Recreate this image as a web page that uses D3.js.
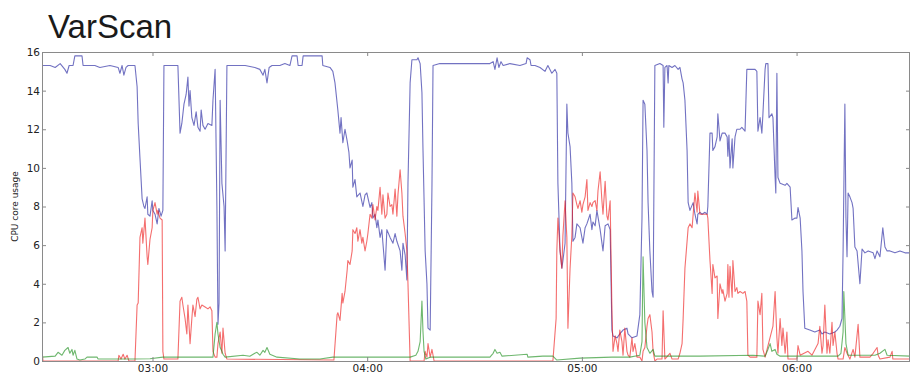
<!DOCTYPE html>
<html><head><meta charset="utf-8">
<script src="https://cdn.jsdelivr.net/npm/d3@7"></script>
<style>body{margin:0;background:#fff}svg{display:block}</style>
</head><body>
<script>
// time in minutes after midnight, value in CPU cores
const chartTitle = "VarScan";
const yLabel = "CPU core usage";
const yTicks = [0,2,4,6,8,10,12,14,16];
const xTickHours = [3,4,5,6];
const timeStart = 149.12, timeEnd = 391.7;

const blueData = [[149.1,15.3],[151.4,15.3],[152.8,15.2],[154.2,15.4],[155.5,15.1],[156.1,14.9],[156.7,15.3],[157.8,15.3],[158.3,15.8],[160.3,15.8],[160.6,15.3],[163.9,15.3],[165.3,15.2],[168.1,15.3],[170.4,15.2],[170.9,14.9],[171.5,15.3],[172.0,14.8],[172.6,15.2],[173.2,15.3],[175.1,15.3],[175.7,14.2],[176.0,12.3],[176.5,10.5],[177.1,8.4],[177.6,8.0],[177.9,7.9],[178.5,8.5],[178.7,7.6],[179.3,7.5],[179.9,8.3],[180.1,7.8],[180.7,7.6],[181.3,7.1],[181.8,7.9],[182.4,7.5],[182.9,7.8],[183.2,15.3],[184.9,15.3],[187.1,15.3],[187.7,11.8],[188.2,12.3],[188.8,13.3],[189.4,13.8],[189.9,14.7],[190.2,13.2],[190.5,14.0],[191.0,12.6],[191.6,12.2],[192.2,12.9],[192.7,12.1],[193.3,11.9],[193.6,13.0],[194.1,12.2],[194.7,12.0],[195.5,12.3],[196.6,12.2],[196.9,13.5],[197.5,15.1],[198.0,8.0],[198.3,1.9],[198.6,3.0],[198.9,13.5],[199.4,9.2],[200.0,8.0],[200.3,5.7],[200.8,15.3],[203.1,15.3],[205.9,15.3],[208.6,15.2],[210.0,15.1],[210.9,14.8],[211.4,15.1],[212.0,14.4],[212.6,15.2],[213.4,15.3],[215.6,15.3],[217.0,15.4],[218.4,15.3],[219.0,15.8],[220.4,15.8],[220.7,15.3],[221.8,15.3],[222.1,15.8],[227.4,15.8],[227.6,15.3],[229.6,15.2],[230.4,15.0],[231.0,14.4],[231.8,13.0],[232.4,11.8],[232.7,12.6],[233.2,11.3],[233.8,12.0],[234.4,11.4],[234.9,10.8],[235.2,10.0],[235.8,10.4],[236.0,9.0],[236.6,9.4],[237.1,8.5],[238.0,8.7],[238.8,8.0],[239.4,8.6],[239.9,8.7],[240.8,7.95],[241.3,8.2],[241.6,7.4],[242.2,7.6],[242.7,6.9],[243.0,7.3],[243.6,6.4],[244.1,6.8],[244.4,6.1],[245.0,4.7],[245.5,6.8],[246.4,6.4],[247.2,6.1],[247.8,6.6],[248.3,6.2],[249.2,5.7],[249.7,4.7],[250.0,6.1],[250.6,5.5],[251.1,4.2],[251.4,9.2],[252.0,14.4],[252.5,15.6],[253.9,15.6],[254.2,15.7],[254.8,15.4],[255.3,13.9],[255.6,10.9],[256.2,5.7],[256.7,4.0],[257.0,1.7],[257.6,1.6],[258.1,9.0],[258.4,15.3],[260.3,15.4],[268.7,15.4],[271.5,15.4],[274.3,15.4],[275.2,15.5],[275.7,15.1],[276.3,15.7],[276.8,15.2],[277.4,15.5],[278.0,15.3],[279.9,15.4],[282.7,15.3],[284.4,15.4],[284.7,15.7],[285.5,15.6],[285.8,15.3],[286.9,15.3],[288.3,15.2],[289.7,15.0],[290.5,15.3],[291.6,14.9],[292.5,15.1],[293.0,14.9],[293.3,9.2],[293.9,5.7],[294.4,4.8],[294.7,5.2],[295.3,6.1],[295.8,13.3],[296.1,11.8],[296.7,11.1],[297.2,9.2],[297.5,6.2],[298.1,6.4],[298.6,7.1],[299.5,6.9],[300.3,6.1],[300.9,6.9],[301.4,7.1],[302.3,7.6],[302.8,6.8],[303.1,7.2],[303.7,7.0],[304.2,7.8],[305.1,6.8],[305.9,5.7],[306.5,7.0],[307.3,7.1],[307.9,6.8],[308.4,1.6],[308.7,1.3],[309.8,1.2],[310.6,1.4],[311.5,1.6],[312.6,1.7],[312.9,1.4],[314.0,1.2],[315.4,1.3],[316.2,2.4],[316.8,7.4],[317.1,13.5],[317.6,13.3],[318.2,10.9],[318.5,8.2],[319.0,5.7],[319.6,3.6],[319.9,3.3],[320.4,15.3],[321.8,15.4],[322.7,15.3],[322.9,12.1],[323.2,15.2],[323.8,15.3],[324.1,14.4],[324.3,15.3],[325.2,15.2],[326.0,15.3],[326.9,15.1],[327.4,15.2],[328.0,14.6],[328.3,14.4],[328.8,13.5],[329.4,10.9],[329.7,8.2],[330.2,7.8],[331.1,8.2],[331.6,7.6],[332.2,7.1],[332.4,7.6],[333.0,7.7],[333.6,7.6],[334.4,7.7],[335.0,7.6],[335.2,8.0],[335.8,11.8],[336.4,11.8],[336.6,10.9],[337.2,11.1],[337.8,11.6],[338.0,12.8],[338.6,11.4],[339.2,11.8],[340.0,11.8],[340.6,11.6],[340.8,10.6],[341.1,11.7],[341.4,10.0],[342.0,11.5],[342.2,10.0],[342.8,11.6],[343.3,12.0],[344.2,12.0],[344.7,12.1],[345.6,11.9],[346.1,15.1],[348.4,15.1],[348.9,15.0],[349.2,11.9],[349.8,12.6],[350.3,11.8],[350.6,12.8],[351.2,15.1],[351.4,15.4],[352.0,15.4],[352.3,12.6],[353.1,12.8],[353.4,12.6],[354.0,9.5],[354.2,8.7],[354.5,14.9],[354.8,9.5],[355.4,9.2],[356.8,9.1],[357.3,9.2],[358.2,9.0],[358.7,7.3],[359.6,7.4],[360.1,7.4],[360.4,7.95],[361.0,7.4],[361.5,5.7],[361.8,3.6],[362.3,1.7],[363.7,1.6],[365.1,1.5],[366.5,1.6],[367.1,1.4],[367.9,1.5],[369.3,1.4],[370.7,1.5],[371.3,1.6],[372.1,1.8],[372.7,2.2],[373.0,5.7],[373.5,13.3],[373.8,7.4],[374.1,5.4],[374.4,8.7],[374.9,8.5],[375.5,8.2],[375.8,7.9],[376.3,5.9],[376.9,5.7],[377.7,4.0],[378.3,5.8],[379.1,5.6],[380.0,5.7],[381.4,5.6],[381.9,5.3],[382.5,5.7],[383.3,5.4],[384.1,6.9],[384.7,5.9],[385.3,5.7],[386.1,5.7],[387.5,5.6],[388.9,5.7],[390.3,5.6],[391.7,5.6]];

const redData = [[149.1,0.6],[149.4,0.0],[170.4,0.0],[170.6,0.3],[171.2,0.1],[171.8,0.35],[172.3,0.1],[172.9,0.3],[173.4,0.0],[175.1,0.0],[175.7,2.9],[176.0,3.0],[176.5,6.4],[177.1,6.9],[177.3,6.1],[177.9,7.4],[178.5,5.4],[178.7,5.0],[179.3,6.3],[179.9,6.9],[180.1,7.8],[180.7,8.2],[181.3,7.6],[181.5,7.8],[182.1,7.4],[182.7,7.3],[182.9,0.5],[183.2,0.1],[187.1,0.1],[187.7,3.1],[188.2,3.3],[188.5,2.9],[189.1,2.2],[189.6,1.4],[189.9,2.9],[190.5,0.9],[191.0,2.2],[191.3,2.9],[191.9,2.3],[192.4,3.2],[192.7,3.3],[193.3,2.7],[193.8,2.9],[194.7,2.8],[195.5,2.7],[196.1,2.8],[196.6,2.6],[196.9,0.5],[197.5,0.2],[198.0,0.2],[198.3,0.9],[198.9,1.5],[199.4,0.4],[199.7,1.7],[200.3,0.4],[200.8,0.1],[230.7,0.05],[231.6,2.4],[231.8,2.5],[232.4,2.1],[233.0,3.5],[233.2,3.0],[233.8,3.6],[234.4,4.7],[234.6,5.2],[235.2,5.0],[235.8,5.7],[236.0,6.8],[236.6,6.6],[237.1,6.9],[237.4,6.2],[238.0,6.8],[238.5,6.1],[238.8,6.4],[239.4,5.7],[239.9,6.2],[240.2,6.6],[240.8,7.6],[241.3,7.4],[241.6,8.1],[242.2,7.3],[242.7,8.0],[243.0,7.8],[243.6,9.0],[244.1,7.6],[244.4,8.6],[245.0,7.4],[245.5,7.6],[245.8,8.7],[246.4,8.0],[246.9,8.1],[247.2,7.6],[247.8,8.9],[248.3,7.5],[248.6,8.6],[249.2,9.9],[249.7,8.7],[250.0,7.5],[250.6,6.6],[251.1,5.7],[251.4,4.0],[252.0,0.0],[255.9,0.0],[256.2,0.5],[256.7,0.2],[257.0,0.9],[257.6,0.2],[258.1,0.6],[258.7,0.0],[291.9,0.0],[292.8,2.2],[293.0,5.7],[293.3,7.4],[293.9,5.7],[294.4,4.8],[294.7,6.5],[295.3,8.3],[295.8,6.4],[296.1,1.7],[296.7,4.8],[297.2,6.5],[297.5,8.7],[298.1,8.5],[298.6,8.1],[298.9,7.9],[299.5,8.3],[300.0,7.7],[300.3,8.1],[300.9,8.5],[301.4,9.4],[301.7,7.8],[302.3,8.2],[302.8,8.0],[303.1,8.2],[303.7,8.3],[304.2,7.8],[304.5,8.8],[305.1,9.8],[305.6,8.3],[305.9,7.6],[306.5,9.3],[307.0,7.5],[307.3,7.3],[307.9,8.3],[308.4,2.6],[308.7,0.5],[309.3,1.3],[309.8,0.9],[310.1,0.5],[310.6,1.6],[311.2,1.0],[311.5,0.3],[312.0,1.7],[312.6,0.5],[312.9,0.3],[313.4,0.2],[314.0,1.2],[314.3,0.5],[314.8,0.9],[315.4,0.2],[316.2,0.2],[316.8,0.0],[317.1,0.5],[317.6,0.7],[318.2,1.8],[318.5,2.2],[319.0,2.4],[319.6,1.5],[319.9,0.5],[320.4,0.0],[321.0,0.1],[322.4,0.1],[322.7,2.6],[323.2,0.1],[324.6,0.4],[325.2,0.1],[326.9,0.1],[327.4,0.4],[328.0,0.9],[328.3,2.2],[328.8,4.8],[329.4,6.2],[329.7,6.9],[330.2,7.1],[330.8,6.9],[331.1,7.6],[331.6,8.7],[332.2,7.7],[332.4,8.8],[333.0,7.6],[333.8,7.6],[335.0,7.6],[335.2,7.4],[335.8,5.2],[336.4,3.5],[336.6,5.0],[337.2,4.3],[337.8,4.4],[338.0,2.2],[338.6,4.0],[339.2,3.5],[339.4,3.7],[340.0,3.1],[340.6,3.5],[340.8,5.0],[341.1,3.3],[341.4,4.9],[342.0,3.3],[342.2,5.2],[342.8,3.6],[343.3,3.8],[343.6,3.5],[344.2,3.6],[345.0,3.5],[345.6,3.6],[346.1,3.1],[346.4,0.3],[347.0,0.2],[348.9,0.2],[349.2,3.1],[349.8,2.4],[350.3,3.5],[350.6,0.6],[351.2,0.2],[353.4,1.8],[354.0,3.6],[354.5,1.2],[354.8,0.4],[355.4,2.2],[355.9,0.8],[356.2,1.7],[356.8,0.4],[357.3,1.5],[357.6,0.1],[360.1,0.1],[360.4,0.8],[361.0,0.3],[363.2,0.5],[364.3,0.3],[366.0,0.9],[366.5,1.8],[367.1,0.4],[367.4,0.8],[367.9,2.9],[368.5,0.4],[368.8,1.1],[369.3,0.4],[369.9,2.0],[370.2,0.8],[370.7,1.5],[371.3,0.4],[371.6,0.1],[373.0,0.1],[373.5,0.7],[374.1,0.4],[374.9,0.1],[375.8,0.6],[376.3,0.2],[377.2,1.9],[377.7,0.2],[380.5,0.2],[381.4,0.4],[382.5,0.7],[382.8,0.3],[383.3,0.1],[386.1,0.2],[386.7,0.5],[386.9,0.1],[391.7,0.1]];

const greenData = [[149.1,0.2],[152.8,0.25],[153.6,0.45],[154.7,0.3],[155.5,0.55],[156.4,0.7],[156.9,0.4],[157.5,0.6],[157.8,0.3],[158.3,0.55],[158.9,0.1],[159.7,0.05],[161.1,0.1],[161.7,0.2],[162.5,0.2],[164.5,0.2],[164.8,0.1],[174.5,0.1],[179.3,0.12],[182.9,0.2],[196.9,0.2],[197.5,1.4],[198.0,2.0],[198.3,1.4],[198.9,0.7],[199.4,0.5],[199.7,0.35],[200.3,0.2],[205.3,0.3],[207.2,0.25],[208.6,0.4],[209.2,0.45],[210.0,0.3],[210.9,0.55],[211.4,0.45],[212.0,0.7],[212.8,0.35],[214.8,0.2],[221.2,0.1],[226.8,0.1],[230.4,0.2],[252.0,0.2],[253.6,0.3],[254.2,0.5],[254.8,1.0],[255.3,3.1],[255.6,1.5],[255.9,0.5],[256.4,0.1],[257.6,0.2],[274.3,0.2],[275.2,0.4],[275.7,0.6],[276.3,0.4],[277.1,0.45],[277.7,0.25],[284.7,0.35],[284.9,0.2],[289.1,0.25],[291.9,0.25],[293.0,0.05],[299.5,0.15],[308.4,0.2],[313.4,0.2],[316.2,0.3],[316.8,1.0],[317.1,5.4],[317.6,2.0],[318.2,0.7],[319.0,0.4],[319.9,0.6],[320.4,0.25],[333.0,0.25],[347.8,0.3],[351.2,0.25],[352.0,0.6],[352.6,0.9],[353.1,0.5],[354.0,0.6],[354.5,0.35],[355.4,0.25],[371.6,0.25],[372.4,0.4],[373.0,1.5],[373.2,3.6],[373.8,0.9],[374.4,0.3],[381.9,0.3],[383.3,0.4],[384.7,0.6],[385.3,0.3],[391.7,0.25]];

const W = 911, H = 376;
const margin = {left: 42, right: 1, top: 52, bottom: 15};
const base = new Date(2013, 0, 1, 0, 0, 0).getTime();
const toDate = m => new Date(base + m * 60000);

const svg = d3.select("body").append("svg").attr("width", W).attr("height", H);

const x = d3.scaleTime().domain([toDate(timeStart), toDate(timeEnd)]).range([margin.left, W - margin.right]);
const y = d3.scaleLinear().domain([0, 16]).range([H - margin.bottom, margin.top]);

svg.append("text").attr("x", 48).attr("y", 38)
  .attr("font-family", "'Liberation Sans', Arial, sans-serif").attr("font-size", 33)
  .attr("fill", "#1a1a1a").text(chartTitle);

svg.append("defs").append("clipPath").attr("id", "clip").append("rect")
  .attr("x", margin.left).attr("y", margin.top)
  .attr("width", W - margin.right - margin.left).attr("height", H - margin.bottom - margin.top);

const line = d3.line().x(d => x(toDate(d[0]))).y(d => y(d[1]));
const g = svg.append("g").attr("clip-path", "url(#clip)");
const series = [
  {data: blueData, color: "#1c1c9c"},
  {data: redData, color: "#ee1515"},
  {data: greenData, color: "#158a15"}
];
series.forEach(s => {
  g.append("path").datum(s.data).attr("d", line).attr("fill", "none")
    .attr("stroke", s.color).attr("stroke-opacity", 0.62).attr("stroke-width", 1.1)
    .attr("stroke-linejoin", "round");
});

const tickFont = "'DejaVu Sans', sans-serif";
const yAxis = d3.axisLeft(y).tickValues(yTicks).tickSize(-4).tickPadding(3);
const ya = svg.append("g").attr("transform", `translate(${margin.left},0)`).call(yAxis);
ya.select(".domain").remove();
ya.selectAll("line").attr("stroke", "#888");
ya.selectAll("text").attr("font-family", tickFont).attr("font-size", 10.5).attr("fill", "#222").attr("x", -2);
const yr = svg.append("g").attr("transform", `translate(${W - margin.right},0)`)
  .call(d3.axisRight(y).tickValues(yTicks).tickSize(-4).tickFormat(""));
yr.select(".domain").remove();
yr.selectAll("line").attr("stroke", "#888");

const xTickDates = xTickHours.map(h => toDate(h * 60));
const xAxis = d3.axisBottom(x).tickValues(xTickDates).tickFormat(d3.timeFormat("%H:%M")).tickSize(-4).tickPadding(5);
const xa = svg.append("g").attr("transform", `translate(0,${H - margin.bottom})`).call(xAxis);
xa.select(".domain").remove();
xa.selectAll("line").attr("stroke", "#888");
xa.selectAll("text").attr("font-family", tickFont).attr("font-size", 10.5).attr("fill", "#222").attr("y", 4);
const xt = svg.append("g").attr("transform", `translate(0,${margin.top})`)
  .call(d3.axisTop(x).tickValues(xTickDates).tickSize(-4).tickFormat(""));
xt.select(".domain").remove();
xt.selectAll("line").attr("stroke", "#888");

svg.append("rect").attr("x", margin.left + 0.5).attr("y", margin.top + 0.5)
  .attr("width", W - margin.right - margin.left - 1).attr("height", H - margin.bottom - margin.top)
  .attr("fill", "none").attr("stroke", "#8a8a8a").attr("stroke-width", 1);

svg.append("text").attr("transform", `translate(18,${(margin.top + H - margin.bottom) / 2}) rotate(-90)`)
  .attr("text-anchor", "middle").attr("font-family", tickFont).attr("font-size", 9)
  .attr("fill", "#222").text(yLabel);
</script>
</body></html>
